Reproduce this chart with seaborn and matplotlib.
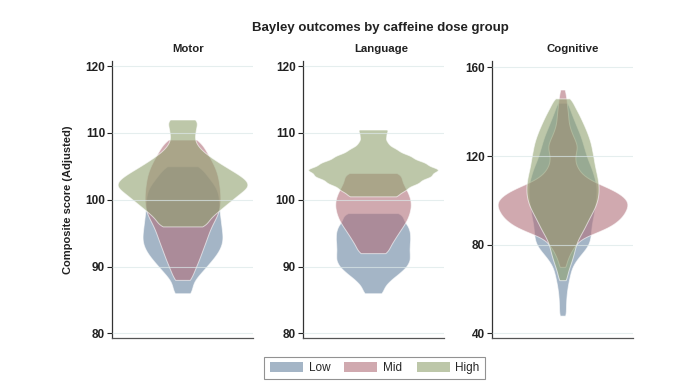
import numpy as np
import pandas as pd
import seaborn as sns
import matplotlib.pyplot as plt
from matplotlib.patches import Patch

panels = ["Motor", "Language", "Cognitive"]
groups = ["Low", "Mid", "High"]
palette = {"Low": "#6784a0", "Mid": "#b1707b", "High": "#91a371"}
yticks_ml = [80, 90, 100, 110, 120]
yticks_cog = [40, 80, 120, 160]

# score grid (y) and frequency (n) per group
motor_low_y = [86, 87, 88, 89, 90, 91, 92, 93, 94, 95, 96, 97, 98, 99, 100, 101, 102, 103, 104, 105]
motor_low_n = [33, 27, 35, 55, 72, 90, 106, 117, 122, 120, 117, 115, 112, 110, 110, 108, 100, 84, 66, 60]
motor_mid_y = [88, 89, 90, 91, 92, 93, 94, 95, 96, 97, 98, 99, 100, 101, 102, 103, 104, 105, 106, 107, 108, 109]
motor_mid_n = [29, 30, 40, 48, 55, 62, 70, 76, 83, 95, 105, 110, 111, 110, 108, 105, 102, 93, 84, 72, 60, 55]
motor_high_y = [96, 97, 98, 99, 100, 101, 102, 103, 104, 105, 106, 107, 108, 109, 110, 111, 112]
motor_high_n = [72, 74, 97, 120, 144, 167, 195, 185, 155, 122, 92, 64, 44, 34, 37, 40, 48]

language_low_y = [86, 87, 88, 89, 90, 91, 92, 93, 94, 95, 96, 97, 98]
language_low_n = [29, 33, 52, 78, 100, 110, 108, 108, 110, 110, 105, 88, 91]
language_mid_y = [92, 93, 94, 95, 96, 97, 98, 99, 100, 101, 102, 103, 104]
language_mid_n = [42, 48, 60, 72, 85, 97, 104, 108, 107, 100, 90, 80, 85]
language_high_y = [100.5, 101.5, 102.5, 103.5, 104.5, 105.5, 106.5, 107.5, 108.5, 109.5, 110.5]
language_high_n = [70, 92, 128, 164, 190, 147, 107, 67, 40, 36, 45]

cog_low_y = [48, 50, 52, 54, 56, 58, 60, 62, 64, 66, 68, 70, 72, 74, 76, 78, 80, 82, 84, 86,
             88, 90, 92, 94, 96, 98, 100, 102, 104, 106, 108, 110, 112, 114, 116, 118, 120,
             122, 124, 126, 128, 130, 132, 134, 136, 138, 140, 142, 144]
cog_low_n = [13, 10, 11, 11, 12, 13, 15, 17, 20, 23, 26, 30, 38, 48, 60, 72, 82, 86, 88, 89,
             90, 92, 95, 98, 100, 102, 104, 105, 106, 106, 104, 100, 96, 92, 86, 80, 75,
             71, 67, 63, 59, 54, 48, 42, 37, 31, 26, 20, 20]
cog_mid_y = [70, 72, 74, 76, 78, 80, 82, 84, 86, 88, 90, 92, 94, 96, 98, 100, 102, 104, 106, 108,
             110, 112, 114, 116, 118, 120, 122, 124, 126, 128, 130, 132, 134, 136, 138, 140,
             142, 144, 146, 148, 150]
cog_mid_n = [10, 12, 17, 23, 30, 40, 50, 75, 110, 140, 160, 175, 185, 192, 196, 193, 180, 160, 132, 100,
             75, 58, 48, 41, 38, 38, 41, 44, 41, 35, 29, 24, 20, 18, 17, 16,
             14, 13, 12, 9, 8]
cog_high_y = [64, 66, 68, 70, 72, 74, 76, 78, 80, 82, 84, 86, 88, 90, 92, 94, 96, 98, 100, 102,
              104, 106, 108, 110, 112, 114, 116, 118, 120, 122, 124, 126, 128, 130, 132, 134,
              136, 138, 140, 142, 144, 146]
cog_high_n = [13, 13, 17, 21, 26, 30, 34, 37, 40, 45, 52, 60, 67, 73, 80, 87, 94, 100, 104, 107,
              108, 108, 107, 105, 102, 99, 96, 94, 92, 89, 87, 84, 80, 75, 70, 64,
              58, 52, 45, 38, 30, 29]

series = {
    "Motor": [("Low", motor_low_y, motor_low_n), ("Mid", motor_mid_y, motor_mid_n),
              ("High", motor_high_y, motor_high_n)],
    "Language": [("Low", language_low_y, language_low_n), ("Mid", language_mid_y, language_mid_n),
                 ("High", language_high_y, language_high_n)],
    "Cognitive": [("Low", cog_low_y, cog_low_n), ("Mid", cog_mid_y, cog_mid_n),
                  ("High", cog_high_y, cog_high_n)],
}

frames = []
for panel, items in series.items():
    for g, ys, ns in items:
        frames.append(pd.DataFrame({"panel": panel, "group": g,
                                    "score": np.repeat(np.array(ys, float), ns)}))
df = pd.concat(frames, ignore_index=True)

sns.set_style("white")
plt.rcParams["font.family"] = ["Liberation Sans", "DejaVu Sans"]

W, H = 691, 383
fig = plt.figure(figsize=(W / 100, H / 100), dpi=100)

lefts = [112, 302.5, 492]
title_x = [0.54, 0.555, 0.575]
ylims = [(79.3, 120.8), (79.3, 120.8), (37.9, 163.0)]
ticks = [yticks_ml, yticks_ml, yticks_cog]
bws = [0.8, 0.8, 0.5]

for i, panel in enumerate(panels):
    ax = fig.add_axes([lefts[i] / W, 45 / H, 141 / W, 277.3 / H])
    sub = df[df["panel"] == panel]
    sns.violinplot(data=sub, y="score", hue="group", hue_order=groups, palette=palette,
                   dodge=False, cut=0, inner=None, density_norm="area", common_norm=True,
                   bw_adjust=bws[i], width=0.92, saturation=1, linewidth=0.7,
                   linecolor="white", alpha=0.6, legend=False, ax=ax)
    ax.set_xlim(-0.5, 0.5)
    ax.set_ylim(*ylims[i])
    ax.set_yticks(ticks[i])
    ax.set_axisbelow(False)
    ax.grid(axis="y", color="#dbe7e8", linewidth=0.8, alpha=0.7)
    ax.grid(axis="x", visible=False)
    ax.tick_params(axis="x", bottom=False, labelbottom=False)
    ax.tick_params(axis="y", left=True, length=3.5, width=0.8, pad=1.5, labelsize=8.5,
                   colors="#222222")
    for lbl in ax.get_yticklabels():
        lbl.set_fontweight("bold")
    for s in ["top", "right"]:
        ax.spines[s].set_visible(False)
    ax.spines["left"].set_color("#333333")
    ax.spines["bottom"].set_color("#555555")
    ax.spines["left"].set_linewidth(0.9)
    ax.spines["bottom"].set_linewidth(0.9)
    ax.set_xlabel("")
    ax.set_ylabel("")
    ax.set_title(panel, fontsize=8.2, fontweight="bold", x=title_x[i], pad=6, color="#222222")
    if i == 0:
        ax.set_ylabel("Composite score (Adjusted)", fontsize=8, fontweight="bold", color="#222222")
        ax.yaxis.set_label_coords(-0.275, 0.5)

fig.text(380 / W, 1 - 28 / H, "Bayley outcomes by caffeine dose group", ha="center", va="center",
         fontsize=9.5, fontweight="bold", color="#222222")

handles = [Patch(facecolor=palette[g], alpha=0.6, edgecolor="none", label=g) for g in groups]
leg = fig.legend(handles=handles, loc="center", bbox_to_anchor=(374.7 / W, 1 - 368 / H), ncol=3,
                 fontsize=8.5, frameon=True, fancybox=False, handlelength=2.8, handleheight=0.85,
                 handletextpad=0.5, columnspacing=1.2, borderpad=0.45)
leg.get_frame().set_edgecolor("#777777")
leg.get_frame().set_linewidth(0.8)

fig.savefig("out.png", dpi=100, facecolor="white")
